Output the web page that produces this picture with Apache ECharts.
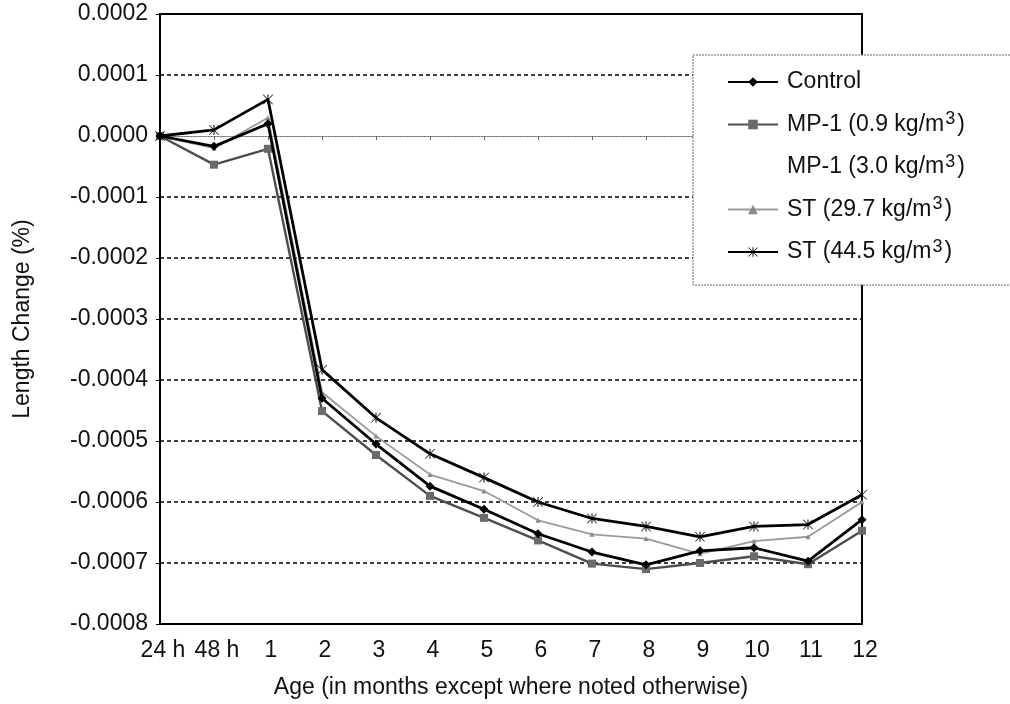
<!DOCTYPE html>
<html>
<head>
<meta charset="utf-8">
<title>Length Change vs Age</title>
<script src="https://cdn.jsdelivr.net/npm/echarts@6/dist/echarts.min.js"></script>
<style>
  html, body { margin: 0; padding: 0; background: #fff; }
  #chart { width: 1010px; height: 704px; }
</style>
</head>
<body>
<div id="chart"></div>
<script>
// Ages at which length was measured
const categories = ['24 h', '48 h', '1', '2', '3', '4', '5', '6', '7', '8', '9', '10', '11', '12'];

// Length change (%) for each mix
const control = [0, -0.000017, 0.00002, -0.00043, -0.000505, -0.000574, -0.000612, -0.000652, -0.000682, -0.000703, -0.00068, -0.000675, -0.000697, -0.000629];
const mp1Low  = [0, -0.000047, -0.000021, -0.000451, -0.000523, -0.00059, -0.000626, -0.000663, -0.000701, -0.00071, -0.0007, -0.000689, -0.000702, -0.000647];
const mp1High = [];
const stLow   = [0, -0.00002, 0.00003, -0.00042, -0.000492, -0.000555, -0.000582, -0.00063, -0.000653, -0.00066, -0.000685, -0.000664, -0.000657, -0.0006];
const stHigh  = [0, 0.00001, 0.00006, -0.000383, -0.000462, -0.000521, -0.00056, -0.0006, -0.000627, -0.00064, -0.000657, -0.00064, -0.000637, -0.000588];

// Value axis ticks
const yMin = -0.0008;
const yMax = 0.0002;
const yStep = 0.0001;

const seriesNames = ['Control', 'MP-1 (0.9 kg/m3)', 'MP-1 (3.0 kg/m3)', 'ST (29.7 kg/m3)', 'ST (44.5 kg/m3)'];

const FONT = 'Liberation Sans, Arial, sans-serif';
const FS = 23;

// Asterisk marker: vertical bar plus two diagonals
const asterisk = 'path://M0,1L1,0L20,19L19,20Z M19,0L20,1L1,20L0,19Z M9,0L11,0L11,20L9,20Z';

// Gridline colours, one per tick from the bottom; the zero line is left to the category axis
const gridColors = [];
for (let i = 0; i <= Math.round((yMax - yMin) / yStep); i++) {
  const v = yMin + i * yStep;
  gridColors.push(Math.abs(v) < 1e-10 ? 'rgba(0,0,0,0)' : '#000');
}

const chart = echarts.init(document.getElementById('chart'), null, { renderer: 'canvas' });

chart.setOption({
  animation: false,
  backgroundColor: '#fff',
  textStyle: { fontFamily: FONT },
  grid: {
    left: 160, top: 14, width: 702, height: 612,
    show: true, borderColor: '#000', borderWidth: 2, backgroundColor: 'transparent'
  },
  graphic: [{
    type: 'rect', z: 3,
    shape: { x: 693, y: 55, width: 340, height: 230 },
    style: { fill: '#fff', stroke: '#666', lineWidth: 1, lineDash: [2, 1] }
  }],
  legend: {
    orient: 'vertical', left: 727, top: 68, padding: 0,
    itemWidth: 50, itemHeight: 12, itemGap: 14.5,
    data: seriesNames,
    formatter: name => name.replace('m3)', 'm{sup|3})'),
    textStyle: {
      fontFamily: FONT, fontSize: FS, color: '#111', lineHeight: 28, padding: [0, 0, 0, 4],
      rich: { sup: { fontFamily: FONT, fontSize: 18, color: '#111', verticalAlign: 'top', lineHeight: 24, padding: [0, 2, 0, 1] } }
    }
  },
  xAxis: [{
    // category labels beneath the plot
    type: 'category', data: categories, boundaryGap: false, position: 'bottom',
    axisLine: { show: false, onZero: false },
    axisTick: { show: false },
    axisLabel: { interval: 0, fontFamily: FONT, fontSize: FS, color: '#111', margin: 15, padding: [0, 0, 0, 6] },
    name: 'Age (in months except where noted otherwise)',
    nameLocation: 'middle', nameGap: 52,
    nameTextStyle: { fontFamily: FONT, fontSize: FS, color: '#111' }
  }, {
    // axis line crossing at zero
    type: 'category', data: categories, boundaryGap: false, position: 'bottom',
    axisLine: { show: true, onZero: true, lineStyle: { color: '#777', width: 1, type: [2, 1] } },
    axisTick: { show: true, interval: 0, length: 4, inside: false, lineStyle: { color: '#666', width: 1 } },
    axisLabel: { show: false },
    splitLine: { show: false }
  }],
  yAxis: {
    type: 'value', min: yMin, max: yMax, interval: yStep,
    axisLine: { show: false },
    axisTick: { show: true, length: 4, lineStyle: { color: '#000' } },
    axisLabel: {
      fontFamily: FONT, fontSize: FS, color: '#111', margin: 12,
      formatter: v => (Math.abs(v) < 1e-10 ? 0 : v).toFixed(4)
    },
    splitLine: { show: true, lineStyle: { color: gridColors, width: 1.5, type: [4, 3] } },
    name: 'Length Change (%)', nameLocation: 'middle', nameGap: 126, nameRotate: 90,
    nameTextStyle: { fontFamily: FONT, fontSize: FS, color: '#111' }
  },
  series: [{
    name: seriesNames[0], type: 'line', data: control, xAxisIndex: 0,
    symbol: 'diamond', symbolSize: 9, showAllSymbol: true,
    lineStyle: { color: '#000', width: 2.8 }, itemStyle: { color: '#000' }, z: 5
  }, {
    name: seriesNames[1], type: 'line', data: mp1Low, xAxisIndex: 0,
    symbol: 'rect', symbolSize: 8, showAllSymbol: true,
    lineStyle: { color: '#4d4d4d', width: 2.4 }, itemStyle: { color: '#6a6a6a' }, z: 4
  }, {
    name: seriesNames[2], type: 'line', data: mp1High, xAxisIndex: 0,
    symbol: 'none',
    lineStyle: { color: '#fff', width: 2 }, itemStyle: { color: '#fff' }, z: 3
  }, {
    name: seriesNames[3], type: 'line', data: stLow, xAxisIndex: 0,
    symbol: 'triangle', symbolSize: 5, showAllSymbol: true,
    lineStyle: { color: '#9a9a9a', width: 1.8 }, itemStyle: { color: '#8a8a8a' }, z: 4
  }, {
    name: seriesNames[4], type: 'line', data: stHigh, xAxisIndex: 0,
    symbol: asterisk, symbolSize: 10, showAllSymbol: true,
    lineStyle: { color: '#000', width: 2.8 }, itemStyle: { color: '#000' }, z: 5
  }]
});
</script>
</body>
</html>
